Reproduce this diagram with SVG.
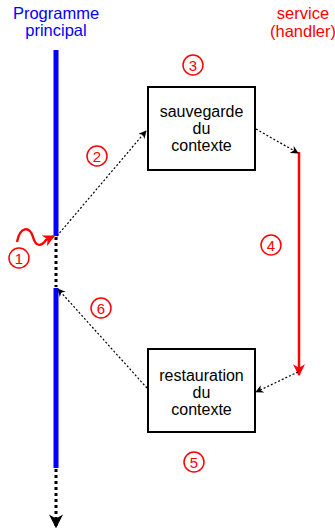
<svg xmlns="http://www.w3.org/2000/svg" width="335" height="532" viewBox="0 0 335 532">
  <style>
    .lbl { font-family: "Liberation Sans", Arial, sans-serif; font-size: 16.5px; text-anchor: middle; }
    .box rect { fill: #fff; stroke: #000; stroke-width: 2; }
    .box text { font-family: "Liberation Sans", Arial, sans-serif; font-size: 16px; text-anchor: middle; fill: #000; }
    .dash { fill: none; stroke: #000; stroke-width: 1.2; stroke-dasharray: 2 2; }
    .dots { fill: none; stroke: #000; stroke-width: 3; stroke-dasharray: 3 3; }
    .step circle { fill: none; stroke: #f00; stroke-width: 1.5; }
    .step text { font-family: "Liberation Sans", Arial, sans-serif; font-size: 15px; text-anchor: middle; fill: #f00; }
  </style>
  <defs>
    <marker id="ah" viewBox="0 0 10 10" refX="9" refY="5" markerWidth="8" markerHeight="8" markerUnits="userSpaceOnUse" orient="auto">
      <path d="M0,0 L10,5 L0,10 L3,5 Z" fill="#000"/>
    </marker>
    <marker id="ahBig" viewBox="0 0 10 10" refX="9" refY="5" markerWidth="14" markerHeight="14" markerUnits="userSpaceOnUse" orient="auto">
      <path d="M0,0 L10,5 L0,10 L3,5 Z" fill="#000"/>
    </marker>
    <marker id="ahRed" viewBox="0 0 10 10" refX="9" refY="5" markerWidth="14" markerHeight="12" markerUnits="userSpaceOnUse" orient="auto">
      <path d="M0,0 L10,5 L0,10 L3,5 Z" fill="#f00"/>
    </marker>
  </defs>

  <!-- titles -->
  <text class="lbl" x="56" y="19" fill="#00f">Programme</text>
  <text class="lbl" x="56" y="36" fill="#00f">principal</text>
  <text class="lbl" x="303" y="19" fill="#f00">service</text>
  <text class="lbl" x="303" y="37" fill="#f00">(handler)</text>

  <!-- main program timeline -->
  <g id="main-program">
    <line x1="56" y1="50" x2="56" y2="236" stroke="#00f" stroke-width="5"/>
    <line x1="56" y1="288" x2="56" y2="468" stroke="#00f" stroke-width="5"/>
  </g>

  <!-- handler timeline -->
  <g id="handler">
    <line x1="299" y1="152" x2="299" y2="375" stroke="#f00" stroke-width="2.5" marker-end="url(#ahRed)"/>
  </g>

  <g id="save" class="box">
    <rect x="148" y="87" width="107" height="83"/>
    <text x="201.5" y="117">sauvegarde</text>
    <text x="201.5" y="134">du</text>
    <text x="201.5" y="151">contexte</text>
  </g>

  <g id="restore" class="box">
    <rect x="148" y="349" width="107" height="83"/>
    <text x="201.5" y="381">restauration</text>
    <text x="201.5" y="398">du</text>
    <text x="201.5" y="415">contexte</text>
  </g>

  <g id="connectors">
    <line class="dots" x1="56" y1="237" x2="56" y2="287"/>
    <line class="dots" x1="56" y1="469" x2="56" y2="527" marker-end="url(#ahBig)"/>
    <line class="dash" x1="57" y1="236" x2="146" y2="131" marker-end="url(#ah)"/>
    <line class="dash" x1="256" y1="129" x2="298" y2="153" marker-end="url(#ah)"/>
    <line class="dash" x1="298" y1="372" x2="256" y2="392" marker-end="url(#ah)"/>
    <line class="dash" x1="147" y1="388" x2="58" y2="289" marker-end="url(#ah)"/>
    <path d="M17,242 C20,226 30,226 33,237 C36,248 42,246 46,240 L54,236" fill="none" stroke="#f00" stroke-width="2.4" marker-end="url(#ahRed)"/>
  </g>

  <g id="steps">
    <g class="step"><circle cx="19" cy="258" r="10"/><text x="19" y="263.5">1</text></g>
    <g class="step"><circle cx="97" cy="156" r="10"/><text x="97" y="161.5">2</text></g>
    <g class="step"><circle cx="193" cy="65" r="10"/><text x="193" y="70.5">3</text></g>
    <g class="step"><circle cx="271" cy="245" r="10"/><text x="271" y="250.5">4</text></g>
    <g class="step"><circle cx="194" cy="462" r="10"/><text x="194" y="467.5">5</text></g>
    <g class="step"><circle cx="101" cy="308" r="10"/><text x="101" y="313.5">6</text></g>
  </g>
</svg>
